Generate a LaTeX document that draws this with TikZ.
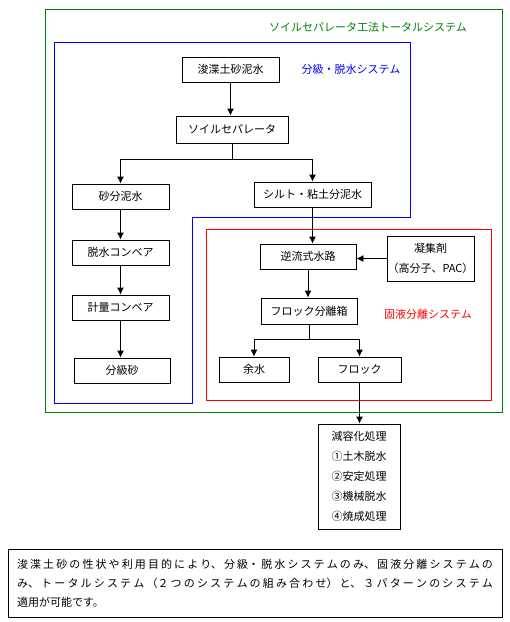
\documentclass[tikz,border=0pt]{standalone}
\usepackage{fontspec}
\setmainfont{Noto Sans CJK JP}
\XeTeXlinebreaklocale "ja"
\XeTeXlinebreakskip=0pt plus 4pt
\usetikzlibrary{arrows.meta}

\tikzset{
	box/.style={draw, line width=0.9pt, inner sep=0pt, minimum height=25pt, font=\fontsize{11}{13}\selectfont},
	flow/.style={-{Latex[length=7pt,width=7pt]}, line width=0.9pt},
	link/.style={line width=0.9pt},
	frame/.style={line width=0.9pt},
	title/.style={font=\fontsize{11}{13}\selectfont, inner sep=0pt}
}

\begin{document}
\begin{tikzpicture}[x=1pt, y=-1pt]
	\useasboundingbox (0,0) rectangle (510,622);

	% system frames
	\draw [frame, draw={rgb,255:red,0;green,128;blue,0}] (45,9) rectangle (502,412);
	\draw [frame, blue] (54,42) -- (410,42) -- (410,217) -- (192,217) -- (192,403) -- (54,403) -- cycle;
	\draw [frame, red] (206,229) rectangle (491,400);
	\node [title, text={rgb,255:red,0;green,128;blue,0}] (ttotal) at (368,27) {ソイルセパレータ工法トータルシステム};
	\node [title, blue] (tclass) at (351,69) {分級・脱水システム};
	\node [title, red] (tsolid) at (428,314) {固液分離システム};

	% nodes
	\node [box, minimum width=97pt] (src) at (230.5,69.5) {浚渫土砂泥水};
	\node [box, minimum width=112pt, minimum height=27pt] (sep) at (232,129.5) {ソイルセパレータ};
	\node [box, minimum width=97pt] (sand) at (120.5,196.5) {砂分泥水};
	\node [box, minimum width=117pt] (silt) at (312.5,194.5) {シルト・粘土分泥水};
	\node [box, minimum width=97pt] (dewater) at (120.5,252.5) {脱水コンベア};
	\node [box, minimum width=97pt] (meter) at (120.5,307.5) {計量コンベア};
	\node [box, minimum width=96pt] (gsand) at (122,370.5) {分級砂};
	\node [box, minimum width=96pt] (channel) at (308,256.5) {逆流式水路};
	\node [box, minimum width=87pt, minimum height=45pt, align=center, font=\fontsize{11}{20}\selectfont] (agent) at (430.5,258.5) {凝集剤\\（高分子、PAC）};
	\node [box, minimum width=96pt, minimum height=26pt] (flocbox) at (309,311) {フロック分離箱};
	\node [box, minimum width=70pt] (water) at (254,369.5) {余水};
	\node [box, minimum width=83pt] (floc) at (359.5,369.5) {フロック};
	\node [box, minimum width=82pt, minimum height=105pt, align=center, font=\fontsize{11}{20}\selectfont] (reduce) at (359,476.5) {減容化処理\\①土木脱水\\②安定処理\\③機械脱水\\④焼成処理};
	\node [box, minimum width=494pt, minimum height=68pt, text width=476pt, inner xsep=9pt, align=justify, font=\fontsize{11}{19}\selectfont] (note) at (255,583) {浚渫土砂の性状や利用目的により、分級・脱水システムのみ、固液分離システムの\linebreak み、トータルシステム（２つのシステムの組み合わせ）と、３パターンのシステム\linebreak 適用が可能です。};

	% connectors
	\coordinate (split1) at (232,159);
	\coordinate (split2) at (309,339);
	\draw [flow] (src) -- (src |- sep.north);
	\draw [link] (sep) -- (split1);
	\draw [flow] (split1) -| (sand);
	\draw [flow] (split1) -| (silt);
	\draw [flow] (sand) -- (dewater);
	\draw [flow] (dewater) -- (meter);
	\draw [flow] (meter) -- (meter |- gsand.north);
	\draw [flow] (silt.south) -- (silt.south |- channel.north);
	\draw [flow] (agent.west) -- (agent.west -| channel.east);
	\draw [flow] (channel.south) -- (channel.south |- flocbox.north);
	\draw [link] (flocbox) -- (split2);
	\draw [flow] (split2) -| (water);
	\draw [flow] (split2) -| (floc);
	\draw [flow] (floc.south) -- (floc.south |- reduce.north);
\end{tikzpicture}
\end{document}
